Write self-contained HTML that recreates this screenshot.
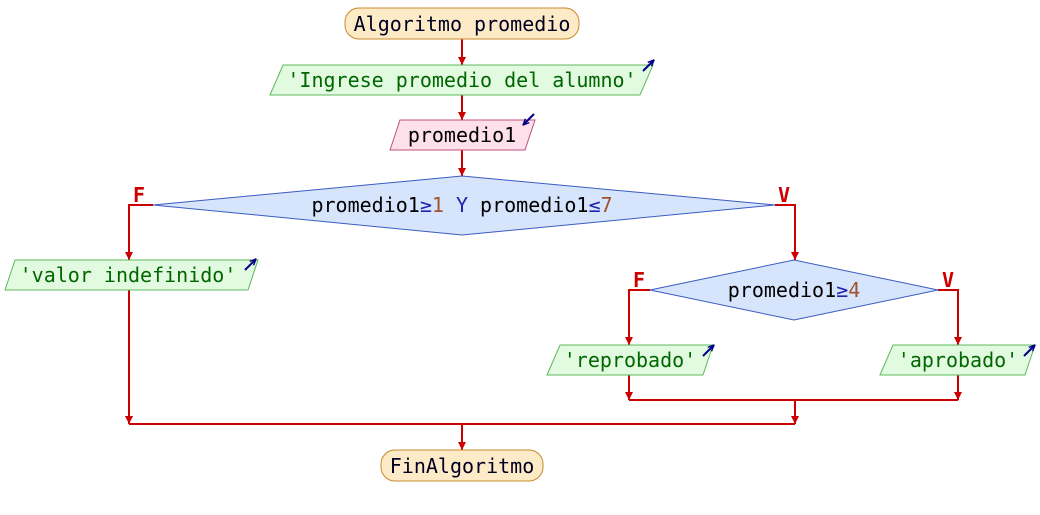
<!DOCTYPE html>
<html><head><style>body{margin:0;background:#fff}svg{display:block}text{font-family:"DejaVu Sans Mono","Liberation Mono",monospace;font-size:20px;dominant-baseline:central;text-anchor:middle}</style></head><body>
<svg width="1040" height="515" viewBox="0 0 1040 515">
<defs><marker id="a" viewBox="0 0 10 10" refX="10" refY="5" markerWidth="8" markerHeight="8" markerUnits="userSpaceOnUse" orient="auto"><path d="M0,0L10,5L0,10z" fill="#c00"/></marker>
<marker id="b" viewBox="0 0 10 10" refX="9" refY="5" markerWidth="7" markerHeight="7" markerUnits="userSpaceOnUse" orient="auto"><path d="M0,1L9,5L0,9" fill="none" stroke="#008" stroke-width="2"/></marker></defs>
<g stroke="#c00" stroke-width="2" fill="none">
<path d="M462,39V65" marker-end="url(#a)"/>
<path d="M462,95V120" marker-end="url(#a)"/>
<path d="M462,150V176" marker-end="url(#a)"/>
<path d="M153,205H129V260" marker-end="url(#a)"/>
<path d="M775,205H795V260" marker-end="url(#a)"/>
<path d="M650,290H629V345" marker-end="url(#a)"/>
<path d="M938,290H958V345" marker-end="url(#a)"/>
<path d="M629,375V400" marker-end="url(#a)"/>
<path d="M958,375V400" marker-end="url(#a)"/>
<path d="M629,400H958"/>
<path d="M795,400V424" marker-end="url(#a)"/>
<path d="M129,290V424" marker-end="url(#a)"/>
<path d="M129,424H795"/>
<path d="M462,424V450" marker-end="url(#a)"/>
</g>
<g font-weight="bold" fill="#c00" style="font-size:11px"><text x="139" y="195">F</text><text x="784" y="195">V</text><text x="639" y="280">F</text><text x="948" y="280">V</text></g>
<rect x="345" y="8" width="234" height="31" rx="14" fill="#fdebc8" stroke="#c8892a"/>
<text x="462" y="24" fill="#002">Algoritmo promedio</text>
<rect x="381" y="450" width="162" height="31" rx="14" fill="#fdebc8" stroke="#c8892a"/>
<text x="462" y="466" fill="#002">FinAlgoritmo</text>
<g fill="#e2fbe0" stroke="#5cb85c">
<path d="M270,95L283,65H653L640,95Z"/>
<path d="M5,290L15,260H258L248,290Z"/>
<path d="M547,375L560,345H713L703,375Z"/>
<path d="M880,375L893,345H1035L1025,375Z"/>
</g>
<path d="M390,150L400,120H535L525,150Z" fill="#fde0ea" stroke="#c05080"/>
<g fill="#d6e4fc" stroke="#3a5cc0"><path d="M153,205L462,176L775,205L462,235Z"/><path d="M650,290L794,260L938,290L794,320Z"/></g>
<g fill="#060"><text x="462" y="80">'Ingrese promedio del alumno'</text><text x="128" y="275">'valor indefinido'</text><text x="630" y="360">'reprobado'</text><text x="958" y="360">'aprobado'</text></g>
<text x="462" y="135" fill="#000">promedio1</text>
<text x="462" y="205" fill="#000">promedio1<tspan fill="#22a">≥</tspan><tspan fill="#a0522d">1</tspan> <tspan fill="#22a">Y</tspan> promedio1<tspan fill="#22a">≤</tspan><tspan fill="#a0522d">7</tspan></text>
<text x="794" y="290" fill="#000">promedio1<tspan fill="#22a">≥</tspan><tspan fill="#a0522d">4</tspan></text>
<g stroke="#008" stroke-width="2" marker-end="url(#b)">
<path d="M643,71L654,60"/><path d="M245,270L256,259"/><path d="M703,356L714,345"/><path d="M1024,356L1035,345"/>
<path d="M534,114L523,125"/>
</g>
</svg>
</body></html>
